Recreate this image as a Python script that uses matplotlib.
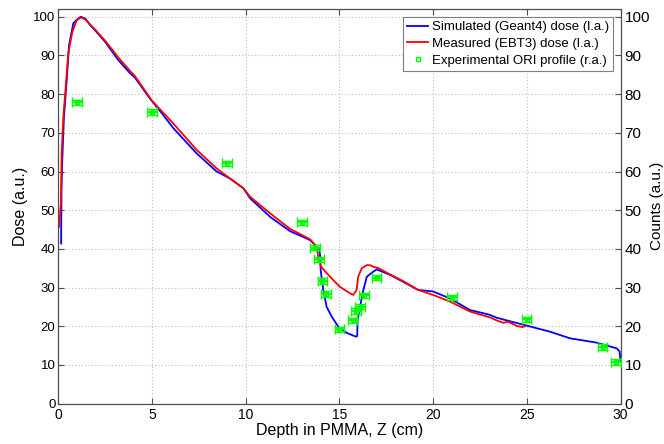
import matplotlib
matplotlib.use("Agg")
import matplotlib.pyplot as plt

plt.rcParams['font.family'] = ['Liberation Sans', 'DejaVu Sans']

# Simulated (Geant4) depth-dose profile, left axis
sim_depth = [0.15, 0.17, 0.2, 0.3, 0.45, 0.57, 0.8, 1.0, 1.2, 1.45, 1.7, 1.96,
             2.5, 3.2, 3.83, 4.1, 4.9, 5.6, 6.14, 7.38, 8.45, 9.16, 9.87, 10.23,
             11.3, 12.36, 13.43, 13.79, 13.96, 14.0, 14.14, 14.32, 14.59, 14.94,
             15.39, 15.89, 15.95, 15.97, 16.1, 16.28, 16.46, 16.8, 16.99, 17.7,
             18.4, 19.2, 20.0, 20.9, 21.97, 23.0, 23.4, 24.9, 26.24, 27.3, 28.7,
             29.8, 29.95, 30.0]
sim_dose = [41.4, 55.0, 61.5, 74.0, 83.6, 92.5, 98.3, 99.3, 100.0, 99.5, 97.8, 96.5,
            93.5, 88.8, 85.4, 84.2, 78.8, 74.6, 71.2, 64.7, 60.0, 58.2, 55.7, 53.1,
            48.3, 44.6, 42.3, 40.6, 39.4, 34.5, 29.4, 25.0, 22.5, 19.9,
            18.3, 17.3, 17.5, 21.6, 25.0, 29.4, 32.8, 34.1, 34.7, 33.3,
            31.5, 29.4, 29.0, 27.2, 24.2, 23.0, 22.2, 20.3, 18.6, 16.9, 15.8,
            14.3, 13.5, 11.0]

# Measured (EBT3) depth-dose profile, left axis
meas_depth = [0.04, 0.14, 0.18, 0.27, 0.41, 0.53, 0.75, 0.98, 1.21, 1.45, 1.7,
              1.96, 2.5, 3.2, 3.83, 4.1, 5.0, 6.14, 7.38, 8.45, 9.16, 9.87, 10.23,
              11.3, 12.36, 13.43, 13.79, 13.87, 14.02, 14.5, 15.03, 15.57, 15.74,
              15.92, 16.0, 16.19, 16.46, 16.63, 16.8, 17.1, 17.7, 18.4, 19.2, 20.0,
              20.9, 21.97, 23.04, 23.4, 23.75, 24.0, 24.46, 24.75, 24.9]
meas_dose = [45.7, 51.8, 64.8, 74.2, 82.8, 90.5, 96.1, 99.1, 99.8, 99.3, 98.0,
             96.7, 93.8, 89.5, 86.0, 84.6, 78.3, 72.4, 65.6, 60.8, 58.2, 55.7, 53.5,
             49.2, 45.2, 42.5, 40.6, 38.0, 35.4, 32.8, 30.2, 28.5, 28.1,
             29.4, 32.8, 35.0, 35.8, 35.8, 35.4, 35.0, 33.4, 31.7, 29.4, 28.1,
             26.4, 23.8, 22.3, 21.5, 20.9, 21.2, 20.1, 19.8, 20.0]

# Experimental ORI profile, right axis
ori_depth = [1.0, 5.0, 9.0, 13.0, 13.7, 13.91, 14.09, 14.28, 15.0, 15.71, 15.89,
             16.1, 16.31, 16.99, 21.0, 25.0, 29.05, 29.76]
ori_counts = [77.9, 75.4, 62.1, 46.9, 40.3, 37.3, 31.7, 28.3, 19.2, 21.5, 24.0,
              25.1, 28.0, 32.6, 27.5, 21.8, 14.6, 10.8]
ori_xerr = 0.25
ori_yerr = 0.7

x_ticks = [0, 5, 10, 15, 20, 25, 30]
y_ticks = [0, 10, 20, 30, 40, 50, 60, 70, 80, 90, 100]

axis_color = '#4d4d4d'

fig = plt.figure(figsize=(6.64, 4.44), dpi=100)
ax = fig.add_axes([0.0878, 0.0908, 0.8467, 0.8889])
ax2 = ax.twinx()

ln_sim, = ax.plot(sim_depth, sim_dose, color=(0, 0, 1), lw=1.3,
                  label='Simulated (Geant4) dose (l.a.)', zorder=3)
ln_meas, = ax.plot(meas_depth, meas_dose, color=(1, 0, 0), lw=1.3,
                   label='Measured (EBT3) dose (l.a.)', zorder=4)

eb = ax2.errorbar(ori_depth, ori_counts, xerr=ori_xerr, yerr=ori_yerr,
                  fmt='s', ms=3, mfc='none', mec=(0, 1, 0), mew=1.0,
                  ecolor=(0, 1, 0), elinewidth=1.6, capsize=3.5, capthick=1.6,
                  zorder=5)

for a in (ax, ax2):
    a.set_xlim(0, 30)
    a.set_ylim(0, 102)
    a.set_yticks(y_ticks)
    for s in a.spines.values():
        s.set_color(axis_color)
        s.set_linewidth(0.8)

ax.set_xticks(x_ticks)
ax.tick_params(axis='both', direction='in', length=4, color=axis_color,
               top=True, labelcolor='black')
ax.tick_params(axis='y', labelsize=9.5, pad=2)
ax.tick_params(axis='x', labelsize=10, pad=3)
ax2.tick_params(axis='y', direction='in', length=4, color=axis_color,
                labelsize=11, pad=3)

ax.grid(True, linestyle=(0, (1, 2)), color='#bfbfbf', linewidth=0.8)
ax.set_axisbelow(True)

ax.set_xlabel('Depth in PMMA, Z (cm)', fontsize=11.5, labelpad=1)
ax.set_ylabel('Dose (a.u.)', fontsize=11.5, labelpad=4)
ax2.set_ylabel('Counts (a.u.)', fontsize=11)
ax2.yaxis.set_label_coords(1.052, 0.5)

ori_handle = plt.Line2D([], [], ls='none', marker='s', ms=3, mfc='none',
                        mec=(0, 1, 0), mew=1.0)
leg = ax2.legend([ln_sim, ln_meas, ori_handle],
                 ['Simulated (Geant4) dose (l.a.)', 'Measured (EBT3) dose (l.a.)',
                  'Experimental ORI profile (r.a.)'],
                 loc='upper right', fontsize=9.5, fancybox=False, framealpha=1,
                 edgecolor='#7f7f7f', handlelength=1.6, handletextpad=0.25,
                 borderpad=0.3, labelspacing=0.35, borderaxespad=0.6)
leg.get_frame().set_linewidth(0.8)

fig.savefig('out.png', dpi=100)
